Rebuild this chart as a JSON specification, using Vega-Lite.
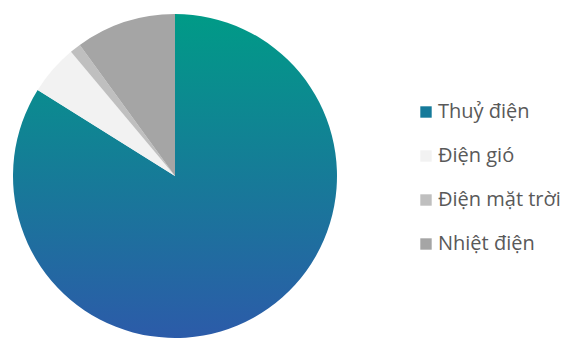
{
  "$schema": "https://vega.github.io/schema/vega-lite/v6.json",
  "width": 350,
  "height": 326,
  "padding": {"left": 0, "top": 13, "right": 0, "bottom": 0},
  "background": "white",
  "data": {
    "values": [
      {"nguon": "Thuỷ điện", "ty_le": 83.9, "thu_tu": 1},
      {"nguon": "Điện gió", "ty_le": 5.0, "thu_tu": 2},
      {"nguon": "Điện mặt trời", "ty_le": 1.1, "thu_tu": 3},
      {"nguon": "Nhiệt điện", "ty_le": 10.0, "thu_tu": 4}
    ]
  },
  "mark": {"type": "arc", "radius": 162, "stroke": null},
  "encoding": {
    "theta": {"field": "ty_le", "type": "quantitative", "stack": true},
    "order": {"field": "thu_tu", "type": "quantitative"},
    "color": {
      "condition": {
        "test": "datum.nguon === 'Thuỷ điện'",
        "value": {"gradient": "linear", "x1": 0, "y1": 0, "x2": 0, "y2": 1, "stops": [{"offset": 0, "color": "#009B87"}, {"offset": 1, "color": "#2C5BA9"}]}
      },
      "field": "nguon",
      "type": "nominal",
      "sort": null,
      "scale": {
        "domain": ["Thuỷ điện", "Điện gió", "Điện mặt trời", "Nhiệt điện"],
        "range": ["#157A9A", "#F2F2F2", "#BFBFBF", "#A5A5A5"]
      },
      "legend": {
        "title": null,
        "orient": "none",
        "legendX": 416,
        "legendY": 89,
        "symbolType": "square",
        "symbolSize": 130,
        "symbolStrokeWidth": 0,
        "labelFont": "Open Sans",
        "labelFontSize": 20,
        "labelColor": "#595959",
        "labelOffset": 2,
        "rowPadding": 24,
        "labelLimit": 300
      }
    }
  },
  "config": {"view": {"stroke": null}}
}
